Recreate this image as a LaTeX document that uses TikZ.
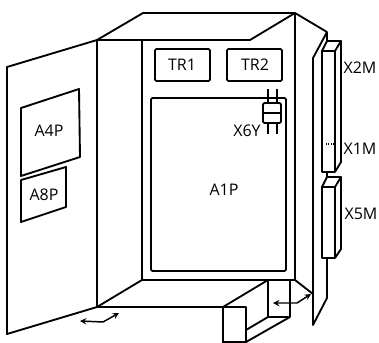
\documentclass[tikz,border=0pt]{standalone}
\usepackage{fontspec}
\setmainfont{Open Sans}

\begin{document}
\begin{tikzpicture}[x=0.75pt,y=-0.75pt,line width=1.4pt,line join=round,>=stealth]
	\tikzstyle{board} = [draw,rounded corners=1pt]
	\tikzstyle{label} = [font=\fontsize{12}{14}\selectfont,inner sep=0pt]
	\tikzstyle{move}  = [<->,line width=1.1pt]

	\useasboundingbox (0,0) rectangle (379,343);

	% door
	\draw (7,67) -- (97,40) -- (97,307) -- (7,334) -- cycle;
	\draw (21,108) -- (79,89) -- (80,157) -- (21,176) -- cycle;
	\draw (21,180) -- (66,167) -- (66,207) -- (21,222) -- cycle;

	% cabinet
	\draw (97,40) -- (143,13) -- (295,13) -- (250,40) -- cycle;
	\draw (142,40) -- (142,280) -- (295,280) -- (295,13);
	\draw (97,307) -- (142,280);
	\draw (97,307) -- (223,307);

	% boards
	\draw[board] (155,49) rectangle (210,81);
	\draw[board] (227,49) rectangle (282,81);
	\draw[board] (151,98) rectangle (286,271);

	% plug
	\draw (268,89) -- (268,103);
	\draw (277,89) -- (277,103);
	\draw[board,fill=white] (263,103) rectangle (281,123);
	\draw (263,113) -- (281,113);
	\draw (268,123) -- (268,134);
	\draw (277,123) -- (277,134);

	% side panel
	\draw (295,13) -- (327,32) -- (313,58) -- (313,325) -- (327,298) -- (327,258);
	\draw (295,280) -- (313,294);
	\draw (327,32) -- (327,41);
	\draw (327,172) -- (327,177);

	% upper terminal
	\draw (322,172) -- (322,51) -- (335,51) -- (335,172) -- cycle;
	\draw (322,51) -- (327,41) -- (341,41) -- (335,51);
	\draw (341,41) -- (341,162) -- (335,172);
	\draw[densely dotted,line width=0.8pt] (326,144) -- (334,144);

	% lower terminal
	\draw (322,258) -- (322,187) -- (335,187) -- (335,258) -- cycle;
	\draw (322,187) -- (327,177) -- (341,177) -- (335,187);
	\draw (341,177) -- (341,249) -- (335,258);

	% base
	\draw (223,343) -- (223,307) -- (246,307) -- (246,343);
	\draw (223,307) -- (268,280) -- (268,317) -- (290,317) -- (290,280);
	\draw (246,330) -- (268,317);
	\draw (246,342) -- (290,317);
	\draw (223,342) -- (246,342);

	% moves
	\draw[move] (80,321) -- (103,322) -- (119,313);
	\draw[move] (273,303) -- (297,303) -- (311,294);

	% texts
	\node[label] (tr1) at (182,65) {TR1};
	\node[label] (tr2) at (255,65) {TR2};
	\node[label] (a4p) at (49,131) {A4P};
	\node[label] (a8p) at (44,195) {A8P};
	\node[label] (a1p) at (224,190) {A1P};
	\node[label] (x6y) at (247,131) {X6Y};
	\node[label] (x2m) at (360,68) {X2M};
	\node[label] (x1m) at (360,149) {X1M};
	\node[label] (x5m) at (361,214) {X5M};
\end{tikzpicture}
\end{document}
